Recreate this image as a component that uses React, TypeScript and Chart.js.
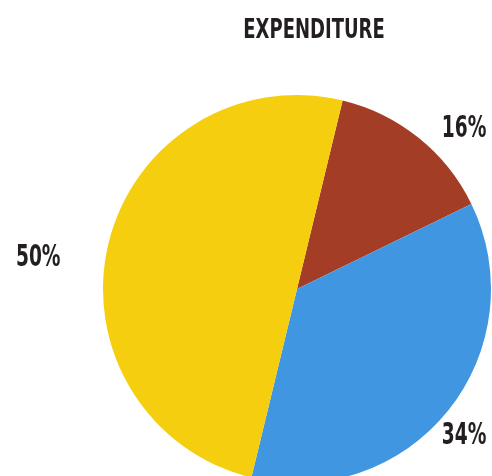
import React, { useEffect, useRef } from "react";
import { Chart, registerables } from "chart.js";

Chart.register(...registerables);

// ---- data ----
const categories = ["Category A", "Category B", "Category C"];
const values = [14, 36, 50];
const percentLabels = ["16%", "34%", "50%"];
const chartTitle = "EXPENDITURE";

// ---- styles ----
const colors = ["#A33D25", "#4196E1", "#F5CF0F"];
const textColor = "#231F20";
const fontFamily = '"Liberation Sans Narrow", "DejaVu Sans Condensed", "Roboto", sans-serif';
const labelNudge = [
  [28, 10],
  [-6, 5],
  [-43, 18],
];

const W = 492;
const H = 476;

const labelPlugin = {
  id: "customText",
  afterDraw(chart: any) {
    const ctx = chart.ctx as CanvasRenderingContext2D;
    // title
    ctx.save();
    ctx.fillStyle = textColor;
    const tSize = 26;
    ctx.font = `bold ${tSize}px ${fontFamily}`;
    ctx.textAlign = "center";
    ctx.textBaseline = "alphabetic";
    ctx.translate(314, 29 + tSize * 0.36);
    ctx.scale(0.77, 1);
    ctx.fillText(chartTitle, 0, 0);
    ctx.restore();

    // slice labels
    const meta = chart.getDatasetMeta(0);
    const lSize = 30;
    meta.data.forEach((arc: any, i: number) => {
      const p = arc.getProps(["x", "y", "startAngle", "endAngle", "outerRadius"], true);
      const mid = (p.startAngle + p.endAngle) / 2;
      const d = p.outerRadius + 28;
      const nx = labelNudge[i] ? labelNudge[i][0] : 0;
      const ny = labelNudge[i] ? labelNudge[i][1] : 0;
      const lx = p.x + Math.cos(mid) * d + nx;
      const ly = p.y + Math.sin(mid) * d + ny;
      ctx.save();
      ctx.fillStyle = textColor;
      ctx.font = `bold ${lSize}px ${fontFamily}`;
      ctx.textAlign = "center";
      ctx.textBaseline = "alphabetic";
      ctx.translate(lx, ly + lSize * 0.36);
      ctx.scale(0.69, 1);
      ctx.fillText(percentLabels[i], 0, 0);
      ctx.restore();
    });
  },
};

export default function App() {
  const ref = useRef<HTMLCanvasElement | null>(null);
  useEffect(() => {
    if (!ref.current) return;
    const chart = new Chart(ref.current, {
      type: "pie",
      data: {
        labels: categories,
        datasets: [
          {
            data: values,
            backgroundColor: colors,
            borderWidth: 0,
          },
        ],
      },
      options: {
        responsive: false,
        animation: false,
        rotation: 13.6,
        radius: 194,
        layout: { padding: { left: 103, right: 1, top: 102, bottom: 0 } },
        plugins: {
          legend: { display: false },
          title: { display: false },
          tooltip: { enabled: false },
        },
      },
      plugins: [labelPlugin],
    } as any);
    return () => chart.destroy();
  }, []);
  return (
    <div style={{ position: "absolute", left: 0, top: 0, width: W, height: H, overflow: "hidden", background: "#fff" }}>
      <canvas ref={ref} width={W} height={H} style={{ width: W, height: H, display: "block" }} />
    </div>
  );
}
